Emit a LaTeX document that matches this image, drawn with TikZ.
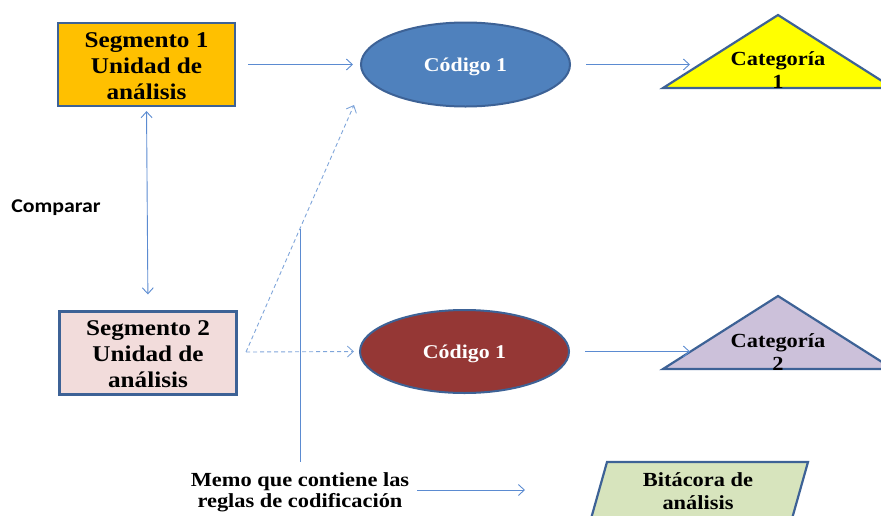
\documentclass[tikz,border=0pt]{standalone}
\usepackage{fontspec}
\usetikzlibrary{arrows.meta,shapes.geometric,calc}
\newfontfamily\serifbold[FakeStretch=1.12]{Liberation Serif}
\newfontfamily\sansbold[FakeStretch=1.12]{Carlito}

\definecolor{edgeblue}{HTML}{3D6296}
\definecolor{linkblue}{HTML}{5B8BD1}
\definecolor{dashblue}{HTML}{7FA5DA}
\definecolor{segorange}{HTML}{FFC000}
\definecolor{segpink}{HTML}{F2DCDB}
\definecolor{codblue}{HTML}{4F81BD}
\definecolor{codred}{HTML}{953735}
\definecolor{catyellow}{HTML}{FFFF00}
\definecolor{catlilac}{HTML}{CCC1DA}
\definecolor{loggreen}{HTML}{D7E4BD}

\tikzset{
  segbox/.style={draw=edgeblue, line width=2.2pt, minimum width=177pt, minimum height=83pt,
    inner sep=0pt, align=center, font=\serifbold\bfseries\fontsize{22.5}{26}\selectfont},
  codeoval/.style={ellipse, draw=edgeblue, line width=2pt, minimum width=209pt, minimum height=84pt,
    inner sep=0pt, text depth=0pt, text=white, font=\serifbold\bfseries\fontsize{19.5}{22}\selectfont},
  shapeedge/.style={draw=edgeblue, line width=2.2pt, line join=miter},
  bodytext/.style={align=center, inner sep=0pt, font=\serifbold\bfseries\fontsize{20}{23}\selectfont},
  link/.style={draw=linkblue, line width=0.9pt, -{Straight Barb[length=6pt,width=11pt]}},
  dlink/.style={draw=dashblue, line width=0.9pt, dash pattern=on 4pt off 3pt,
    -{Straight Barb[length=6pt,width=11pt]}},
  plainlink/.style={draw=linkblue, line width=0.9pt}
}

\begin{document}
\begin{tikzpicture}[x=1pt, y=-1pt]
\useasboundingbox (0,0) rectangle (881,515);
\clip (0,0) rectangle (881,515);

% unit segments (box and text placed separately so the text sits where intended)
\node[segbox, fill=segorange] (seg1) at (146.5,64.5) {};
\node[segbox, draw=none] (seg1txt) at (146.5,66.5) {Segmento 1\\Unidad de\\análisis};
\node[segbox, fill=segpink] (seg2) at (148,353) {};
\node[segbox, draw=none] (seg2txt) at (148,354.5) {Segmento 2\\Unidad de\\análisis};

% codes
\node[codeoval, fill=codblue] (cod1) at (465.5,64.5) {Código 1};
\node[codeoval, fill=codred, minimum height=83pt] (cod2) at (464.5,351.5) {Código 1};

% categories (triangles)
\coordinate (c1l) at (663,88);
\coordinate (c1t) at (778,15);
\coordinate (c1r) at (893,88);
\draw[shapeedge, fill=catyellow] (c1l) -- (c1t) -- (c1r) -- cycle;
\node[bodytext] (cat1) at (778,70) {Categoría\\1};

\coordinate (c2l) at (663,369);
\coordinate (c2t) at (778,296);
\coordinate (c2r) at (893,369);
\draw[shapeedge, fill=catlilac] (c2l) -- (c2t) -- (c2r) -- cycle;
\node[bodytext] (cat2) at (778,352) {Categoría\\2};

% analysis log (parallelogram)
\coordinate (b1) at (607,462);
\coordinate (b2) at (808,462);
\coordinate (b3) at (786,540);
\coordinate (b4) at (585,540);
\draw[shapeedge, fill=loggreen] (b1) -- (b2) -- (b3) -- (b4) -- cycle;
\node[bodytext] (log) at (698,491) {Bitácora de\\análisis};

% free labels
\node[font=\sansbold\bfseries\fontsize{19.5}{21}\selectfont, inner sep=0pt] (cmp) at (56,208) {Comparar};
\node[bodytext, font=\serifbold\bfseries\fontsize{20}{21}\selectfont] (memo) at (300,492.5)
  {Memo que contiene las\\reglas de codificación};

% connectors
\coordinate (k1) at (690,64.5);
\coordinate (k2) at (690,351.5);
\draw[link, shorten <=12pt, shorten >=7pt] (seg1.east |- cod1.west) -- (cod1.west);
\draw[link, shorten <=15pt] (cod1.east) -- (k1);
\draw[link, shorten <=15pt] (cod2.east) -- (k2);
\draw[draw=linkblue, line width=0.9pt, {Straight Barb[length=6pt,width=11pt]}-{Straight Barb[length=6pt,width=11pt]},
  shorten <=4pt, shorten >=16pt] (seg1.south) -- (seg2.north);

\coordinate (dstart) at (246,352);
\coordinate (dup) at (354,105);
\draw[dlink] (dstart) -- (dup);
\draw[dlink, shorten >=5pt] (dstart) -- (cod2.west);

\coordinate (vtop) at ($(dstart)!0.5!(dup)$);
\coordinate (vbot) at (300,462);
\draw[plainlink] (vtop) -- (vbot);

\coordinate (mstart) at (417,490);
\coordinate (mend) at (525,490);
\draw[link] (mstart) -- (mend);
\end{tikzpicture}
\end{document}
